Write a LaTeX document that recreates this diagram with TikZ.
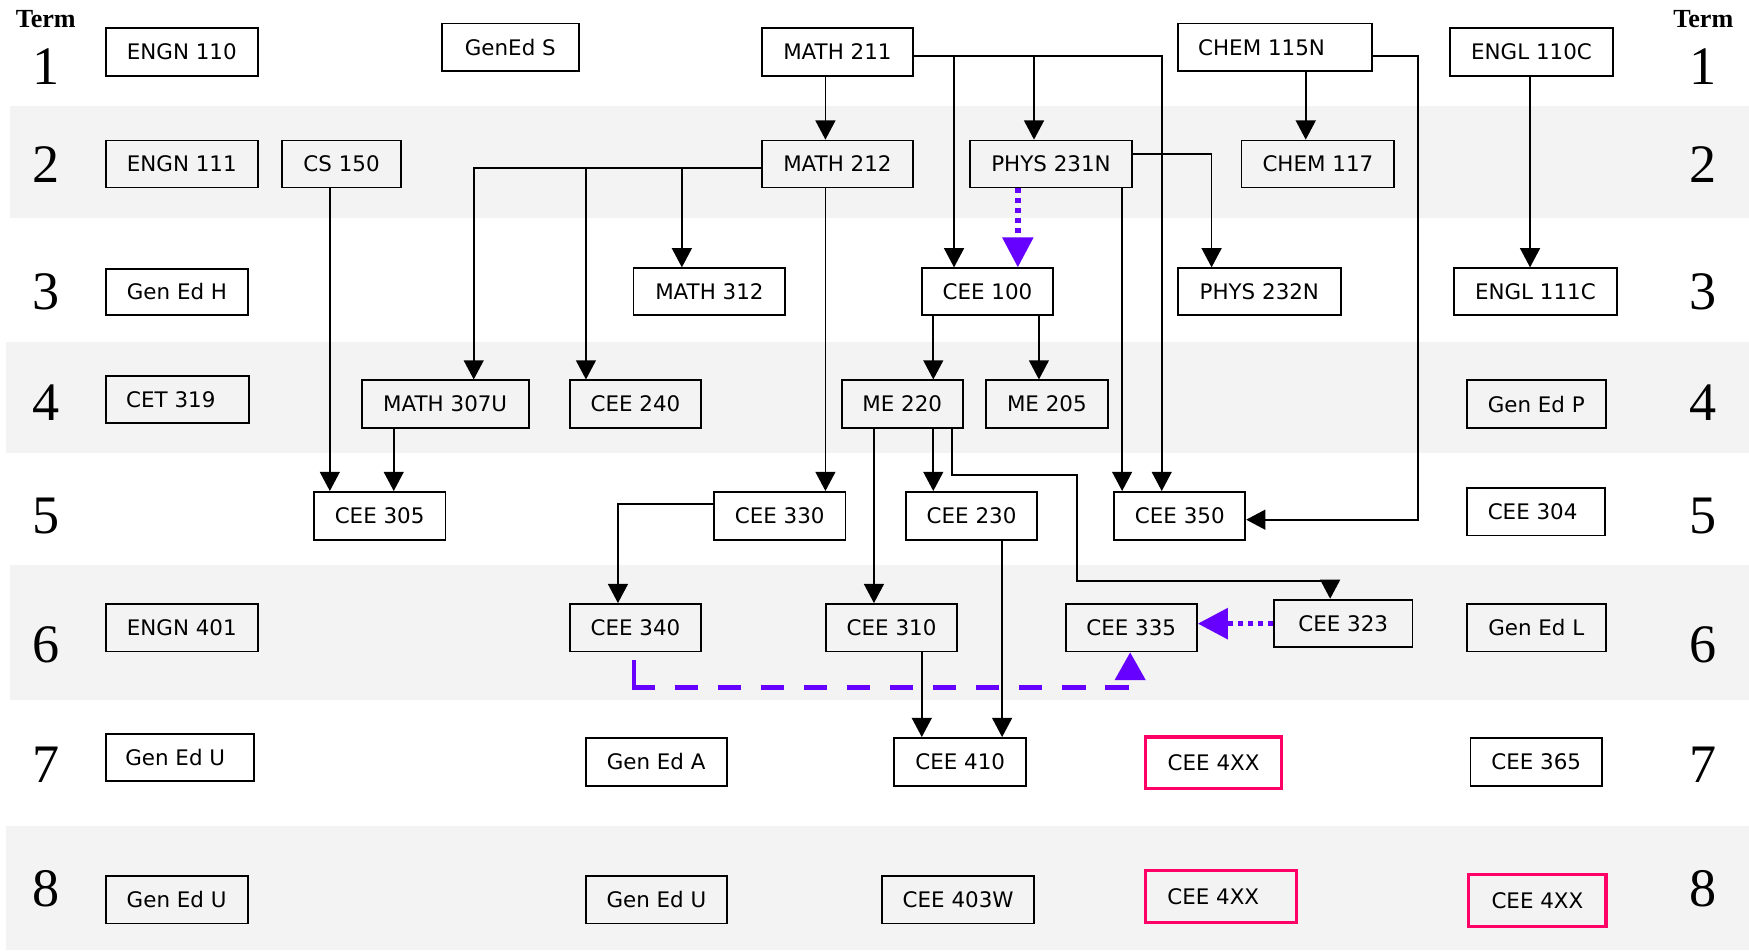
\documentclass[tikz,border=0pt]{standalone}
\usepackage{fontspec}
\setmainfont{DejaVu Sans}
\newfontfamily\serifT{Liberation Serif}
\usetikzlibrary{arrows.meta}
\definecolor{band}{HTML}{F3F3F3}
\definecolor{purp}{HTML}{6600FF}
\definecolor{pinkc}{HTML}{FF0066}
\newcommand\crsbox[7][box]{%
  \pgfmathsetmacro\bxa{(#3+#5)/2}%
  \pgfmathsetmacro\bxb{(#4+#6)/2}%
  \pgfmathsetmacro\bxw{(#5-#3)*0.5}%
  \pgfmathsetmacro\bxh{(#6-#4)*0.5}%
  \node[#1, minimum width=\bxw pt, minimum height=\bxh pt] (#2) at (\bxa,\bxb) {#7};}
\tikzset{
  box/.style={draw=black, line width=0.8pt, inner sep=0pt, font=\fontsize{9.6pt}{11pt}\selectfont},
  pbox/.style={box, draw=pinkc, line width=1.5pt},
  ln/.style={line width=0.8pt},
  arr/.style={line width=0.8pt, -{Triangle[length=8.6pt,width=8.9pt]}},
  pdot/.style={draw=purp, line width=2.5pt, dash pattern=on 2.2pt off 2.3pt, -{Triangle[length=13.5pt,width=13.5pt]}},
  psolid/.style={draw=purp, line width=2pt},
  pdash/.style={draw=purp, line width=2pt, dash pattern=on 10.5pt off 8.8pt, -{Triangle[length=12.5pt,width=13.5pt]}},
  termlbl/.style={font=\serifT\bfseries\fontsize{11.7pt}{13pt}\selectfont, inner sep=0pt},
  dig/.style={font=\serifT\fontsize{24.3pt}{26pt}\selectfont, inner sep=0pt},
}
\begin{document}
\begin{tikzpicture}[x=0.5pt, y=-0.5pt]
\useasboundingbox (0,0) rectangle (1568,851.7);
% bands
\fill[band] (9,95) rectangle (1568,195);
\fill[band] (5.5,306.6) rectangle (1568,406.4);
\fill[band] (8.8,506.5) rectangle (1568,627.5);
\fill[band] (5.1,740.2) rectangle (1568,851.7);
% term labels
\node[termlbl] (tl) at (41,16.7) {Term};
\node[termlbl] (tr) at (1527,16.7) {Term};
\foreach \n/\yy in {1/59.8,2/147.2,3/261.5,4/361,5/462.5,6/578,7/686,8/797}{
  \node[dig] (l\n) at (41,\yy) {\n};
  \node[dig] (r\n) at (1527,\yy) {\n};
}
% row 1
\crsbox{e110}{95}{25}{231}{68}{ENGN 110}
\crsbox{genS}{396}{21}{519}{64}{GenEd S}
\crsbox{m211}{683}{25}{818.5}{68}{MATH 211}
\crsbox{ch115}{1056}{21}{1230}{64}{\hspace*{-12pt}CHEM 115N}
\crsbox{el110}{1300}{25}{1446}{68}{ENGL 110C}
% row 2
\crsbox{e111}{95}{126}{231}{168}{ENGN 111}
\crsbox{cs150}{253}{126}{359.5}{168}{CS 150}
\crsbox{m212}{683}{126}{818.5}{168}{MATH 212}
\crsbox{ph231}{869.5}{126}{1015}{168}{PHYS 231N}
\crsbox{ch117}{1113}{126}{1250}{168}{CHEM 117}
% row 3
\crsbox{genH}{95}{241}{222.3}{282.5}{Gen Ed H}
\crsbox{m312}{568}{240.5}{704}{282.5}{MATH 312}
\crsbox{cee100}{826.5}{240.5}{944}{282.5}{CEE 100}
\crsbox{ph232}{1056}{240.5}{1202}{282.5}{PHYS 232N}
\crsbox{el111}{1303.5}{240.5}{1449.5}{282.5}{ENGL 111C}
% row 4
\crsbox{cet319}{95}{337}{223.3}{379.5}{\hspace*{-6pt}CET 319}
\crsbox{m307}{324.2}{341}{474}{383.4}{MATH 307U}
\crsbox{cee240}{511}{341}{628.5}{383.4}{CEE 240}
\crsbox{me220}{754.7}{341}{863}{383.4}{ME 220}
\crsbox{me205}{884}{341}{993}{383.4}{ME 205}
\crsbox{genP}{1315}{341}{1439.5}{383.4}{Gen Ed P}
% row 5
\crsbox{cee305}{281.3}{441}{399.4}{483.8}{CEE 305}
\crsbox{cee330}{640}{441}{758}{484}{CEE 330}
\crsbox{cee230}{812}{441}{930}{484}{CEE 230}
\crsbox{cee350}{999}{441}{1116.4}{484}{CEE 350}
\crsbox{cee304}{1315}{437.2}{1439}{480}{\hspace*{-3pt}CEE 304}
% row 6
\crsbox{e401}{95}{541.5}{231}{584}{ENGN 401}
\crsbox{cee340}{511}{541.5}{628.5}{584}{CEE 340}
\crsbox{cee310}{740.3}{541.5}{858.3}{584}{CEE 310}
\crsbox{cee335}{955.4}{541.5}{1073}{584}{CEE 335}
\crsbox{cee323}{1142.2}{537.6}{1266.3}{580}{CEE 323}
\crsbox{genL}{1315}{541.5}{1439.6}{584}{Gen Ed L}
% row 7
\crsbox{genU1}{94.7}{657.7}{227.5}{700.4}{\hspace*{-4pt}Gen Ed U}
\crsbox{genA}{525}{661.6}{651.5}{704.4}{Gen Ed A}
\crsbox{cee410}{801.6}{661.6}{920}{704.4}{CEE 410}
\crsbox[pbox]{xa}{1027}{660.7}{1149}{707}{CEE 4XX}
\crsbox{cee365}{1318.3}{661.6}{1436.2}{704.4}{CEE 365}
% row 8
\crsbox{genU2}{94.7}{785}{222}{828}{Gen Ed U}
\crsbox{genU3}{525}{785}{652}{828}{Gen Ed U}
\crsbox{cee403}{790.8}{785}{927.2}{828}{CEE 403W}
\crsbox[pbox]{xb}{1027}{780.5}{1162.4}{826.9}{\hspace*{-7pt}CEE 4XX}
\crsbox[pbox]{xc}{1316.8}{784.1}{1439.8}{830.5}{CEE 4XX}
% junction coordinates
\coordinate (ja) at (855.3,50.2);
\coordinate (jb) at (927,50.2);
\coordinate (jc) at (525.3,150.3);
\coordinate (jd) at (611.3,150.3);
\coordinate (je) at (568.2,616.5);
% connectors
\draw[arr] (m211.south -| 740,0) -- (m212.north -| 740,0);
\draw[arr] (m211.east |- 0,50.2) -- (1041.5,50.2) -- (cee350.north -| 1041.5,0);
\draw[arr] (ja) -- (cee100.north -| ja);
\draw[arr] (jb) -- (ph231.north -| jb);
\draw[arr] (ph231.east |- 0,138) -- (1086.2,138) -- (ph232.north -| 1086.2,0);
\draw[arr] (ph231.south -| 1006,0) -- (cee350.north -| 1006,0);
\draw[pdot] (ph231.south -| 912.5,0) -- (cee100.north -| 912.5,0);
\draw[arr] (ch115.south -| 1170.6,0) -- (ch117.north -| 1170.6,0);
\draw[arr] (ch115.east |- 0,50.2) -- (1271.5,50.2) -- (1271.5,465.9) -- (cee350.east |- 0,465.9);
\draw[arr] (el110.south -| 1371.7,0) -- (el111.north -| 1371.7,0);
\draw[arr] (m212.west |- 0,150.3) -- (424.7,150.3) -- (m307.north -| 424.7,0);
\draw[arr] (jc) -- (cee240.north -| jc);
\draw[arr] (jd) -- (m312.north -| jd);
\draw[arr] (m212.south -| 740,0) -- (cee330.north -| 740,0);
\draw[arr] (cs150.south -| 295.7,0) -- (cee305.north -| 295.7,0);
\draw[arr] (m307.south -| 353,0) -- (cee305.north -| 353,0);
\draw[arr] (cee100.south -| 836.7,0) -- (me220.north -| 836.7,0);
\draw[arr] (cee100.south -| 931.4,0) -- (me205.north -| 931.4,0);
\draw[arr] (me220.south -| 836.7,0) -- (cee230.north -| 836.7,0);
\draw[arr] (me220.south -| 783.5,0) -- (cee310.north -| 783.5,0);
\draw[arr] (me220.south -| 853.2,0) -- (853.2,425.6) -- (965.7,425.6) -- (965.7,520.6) -- (1192.5,520.6) -- (cee323.north -| 1192.5,0);
\draw[arr] (cee330.west |- 0,451.5) -- (554,451.5) -- (cee340.north -| 554,0);
\draw[arr] (cee310.south -| 826.4,0) -- (cee410.north -| 826.4,0);
\draw[arr] (cee230.south -| 898.4,0) -- (cee410.north -| 898.4,0);
\draw[pdot] (cee323.west |- 0,559.1) -- (cee335.east |- 0,559.1);
\draw[psolid, shorten <=3.5pt] (cee340.south -| je) -- ([yshift=-1pt]je);
\draw[pdash] ([xshift=-1pt]je) -- (1013.2,616.5) -- (cee335.south -| 1013.2,0);
\end{tikzpicture}
\end{document}
